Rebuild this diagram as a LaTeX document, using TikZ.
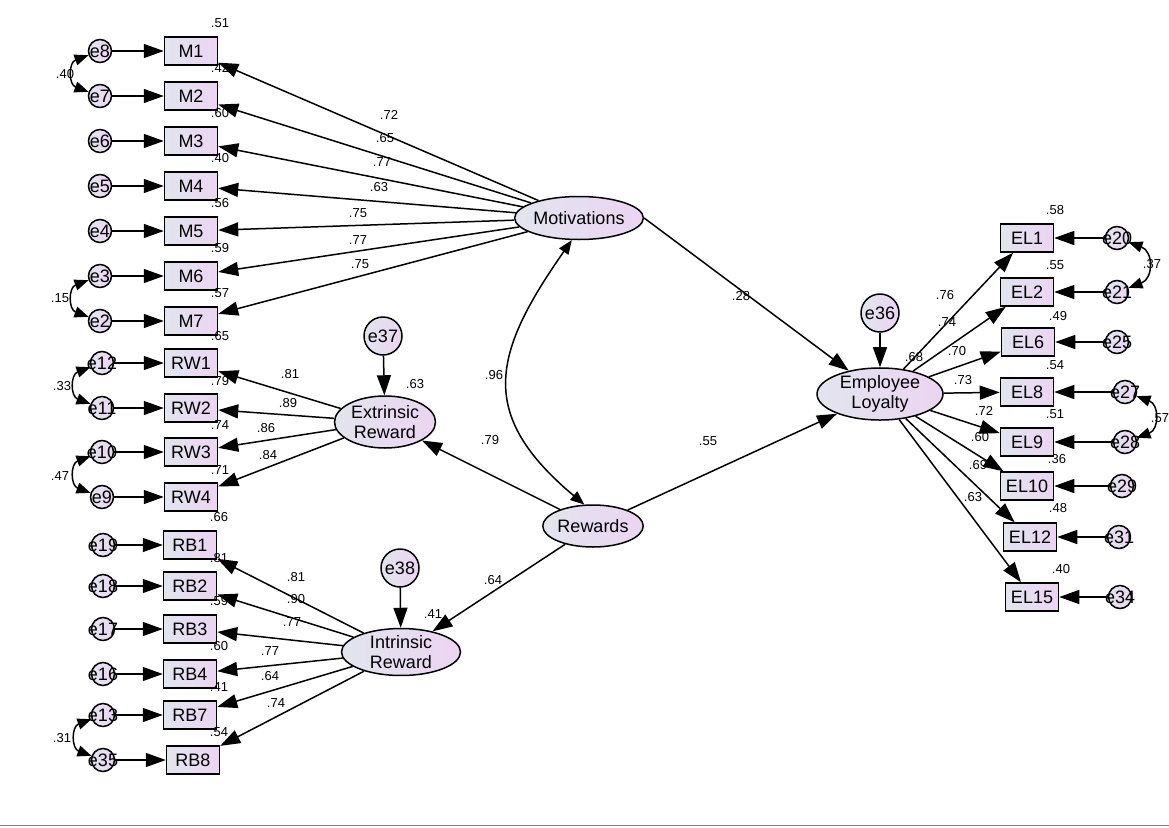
\documentclass[tikz,border=0pt]{standalone}
\usepackage{fontspec}
\setmainfont{Liberation Sans}
\usetikzlibrary{arrows.meta,shapes.geometric}

\definecolor{shadeL}{RGB}{226,229,238}
\definecolor{shadeR}{RGB}{236,212,243}

\tikzset{
	obs/.style={draw, line width=1.5pt, minimum width=53pt, minimum height=28pt, inner sep=0pt, left color=shadeL, right color=shadeR, font=\fontsize{18}{18}\selectfont},
	lat/.style={draw, ellipse, line width=1.5pt, inner sep=0pt, align=center, left color=shadeL, right color=shadeR, font=\fontsize{18}{20}\selectfont},
	err/.style={draw, circle, line width=1.5pt, minimum size=23pt, inner sep=0pt, left color=shadeL, right color=shadeR, font=\fontsize{18}{18}\selectfont,
		execute at begin node={\hbox to 0pt\bgroup\hss}, execute at end node={\hss\egroup}},
	dist/.style={err, minimum size=38pt},
	reg/.style={line width=1.5pt, -{Triangle[length=20pt,width=14pt]}},
	cov/.style={line width=1.5pt, {Triangle[length=14pt,width=11pt]}-{Triangle[length=14pt,width=11pt]}},
	num/.style={inner sep=0pt, font=\fontsize{13}{13}\selectfont}
}

\begin{document}
\begin{tikzpicture}[x=1pt,y=-1pt]
	\useasboundingbox (0,0) rectangle (1169,827);
	\draw[gray, line width=1pt] (0,825) -- (1169,825);

	% latent variables
	\node[lat, minimum width=126pt, minimum height=43pt] (Mot) at (579,218) {Motivations};
	\node[lat, minimum width=101pt, minimum height=52pt] (Ext) at (385,422) {Extrinsic\\Reward};
	\node[lat, minimum width=119pt, minimum height=46pt] (Int) at (401,652) {Intrinsic\\Reward};
	\node[lat, minimum width=95pt, minimum height=42pt] (Rew) at (593,526) {Rewards};
	\node[lat, minimum width=126pt, minimum height=51pt] (Emp) at (880,394) {Employee\\Loyalty};
	\node[dist] (e37) at (383,336) {e37};
	\node[dist] (e38) at (400,568) {e38};
	\node[dist] (e36) at (880,313) {e36};

	% structural part
	\draw[reg] (e37) -- (Ext);
	\draw[reg] (e38) -- (Int);
	\draw[reg] (e36) -- (Emp);
	\draw[reg] (Rew) -- (Ext);
	\draw[reg] (Rew) -- (Int);
	\draw[reg] (Rew) -- (Emp);
	\draw[reg] (Mot.east) -- (Emp);
	\draw[cov] (Mot.252) to[out=235, in=140, looseness=1.35] (Rew.112);
	\node[num] (c96) at (494,375) {.96};
	\node[num] (c79) at (490,440) {.79};
	\node[num] (c64) at (493,580) {.64};
	\node[num] (c55) at (708,441) {.55};
	\node[num] (c28) at (741,296) {.28};
	\node[num] (rExt) at (415,384) {.63};
	\node[num] (rInt) at (433,614) {.41};
	\node[num] (rEmp) at (914,357) {.68};

	% motivations
	\foreach \i/\y/\e/\rs/\lx/\ly/\lv in {1/51/8/.51/389/115/.72, 2/96/7/.42/385/138/.65, 3/141/6/.60/382/162/.77, 4/186/5/.40/379/187/.63, 5/231/4/.56/358/213/.75, 6/276/3/.59/358/240/.77, 7/321/2/.57/360/264/.75} {
		\node[obs] (M\i) at (191,\y) {M\i};
		\node[err] (e\e) at (100,\y) {e\e};
		\node[num] (rM\i) at (220,\y-28) {\rs};
		\node[num] (lM\i) at (\lx,\ly) {\lv};
		\draw[reg] (e\e) -- (M\i);
		\draw[reg] (Mot) -- (M\i);
	}

	% extrinsic reward
	\foreach \i/\y/\e/\rs/\lx/\ly/\lv in {1/363/12/.65/290/374/.81, 2/408/11/.79/288/403/.89, 3/452/10/.74/266/428/.86, 4/497/9/.71/268/455/.84} {
		\node[obs] (RW\i) at (191,\y) {RW\i};
		\node[err] (e\e) at (102,\y) {e\e};
		\node[num] (rRW\i) at (220,\y-27) {\rs};
		\node[num] (lRW\i) at (\lx,\ly) {\lv};
		\draw[reg] (e\e) -- (RW\i);
		\draw[reg] (Ext) -- (RW\i);
	}

	% intrinsic reward
	\foreach \i/\bx/\y/\e/\rs/\lx/\ly/\lv in {1/190/545/19/.66/296/577/.81, 2/190/586/18/.81/296/599/.90, 3/190/629/17/.59/292/622/.77, 4/190/674/16/.60/270/651/.77, 7/190/715/13/.41/270/676/.64, 8/193/760/35/.54/276/703/.74} {
		\node[obs] (RB\i) at (\bx,\y) {RB\i};
		\node[err] (e\e) at (103,\y) {e\e};
		\node[num] (rRB\i) at (219,\y-28) {\rs};
		\node[num] (lRB\i) at (\lx,\ly) {\lv};
		\draw[reg] (e\e) -- (RB\i);
		\draw[reg] (Int) -- (RB\i);
	}

	% employee loyalty
	\foreach \i/\bx/\y/\e/\ex/\rs/\rx/\ry/\lv/\lx/\ly in {1/1027/238/20/1117/.58/1055/210/.76/945/295, 2/1027/292/21/1117/.55/1055/265/.74/947/322, 6/1028/342/25/1117/.49/1058/316/.70/957/351, 8/1027/392/27/1125/.54/1055/365/.73/963/380, 9/1027/442/28/1125/.51/1055/414/.72/984/411, 10/1027/486/29/1122/.36/1057/459/.60/980/437, 12/1030/537/31/1119/.48/1058/508/.69/978/465, 15/1032/597/34/1120/.40/1061/569/.63/973/497} {
		\node[obs] (EL\i) at (\bx,\y) {EL\i};
		\node[err] (e\e) at (\ex,\y) {e\e};
		\node[num] (rEL\i) at (\rx,\ry) {\rs};
		\node[num] (lEL\i) at (\lx,\ly) {\lv};
		\draw[reg] (e\e) -- (EL\i);
		\draw[reg] (Emp) -- (EL\i);
	}

	% error covariances
	\draw[cov] (e8) to[bend right=70, looseness=1.5] (e7);
	\draw[cov] (e3) to[bend right=70, looseness=1.5] (e2);
	\draw[cov] (e12) to[bend right=70, looseness=1.5] (e11);
	\draw[cov] (e10) to[bend right=70, looseness=1.5] (e9);
	\draw[cov] (e13) to[bend right=70, looseness=1.5] (e35);
	\draw[cov] (e20) to[bend left=70, looseness=1.5] (e21);
	\draw[cov] (e27) to[bend left=70, looseness=1.5] (e28);
	\node[num] (c40) at (65,74) {.40};
	\node[num] (c15) at (60,298) {.15};
	\node[num] (c33) at (62,386) {.33};
	\node[num] (c47) at (60,476) {.47};
	\node[num] (c31) at (62,738) {.31};
	\node[num] (c37) at (1152,264) {.37};
	\node[num] (c57) at (1160,418) {.57};
\end{tikzpicture}
\end{document}
